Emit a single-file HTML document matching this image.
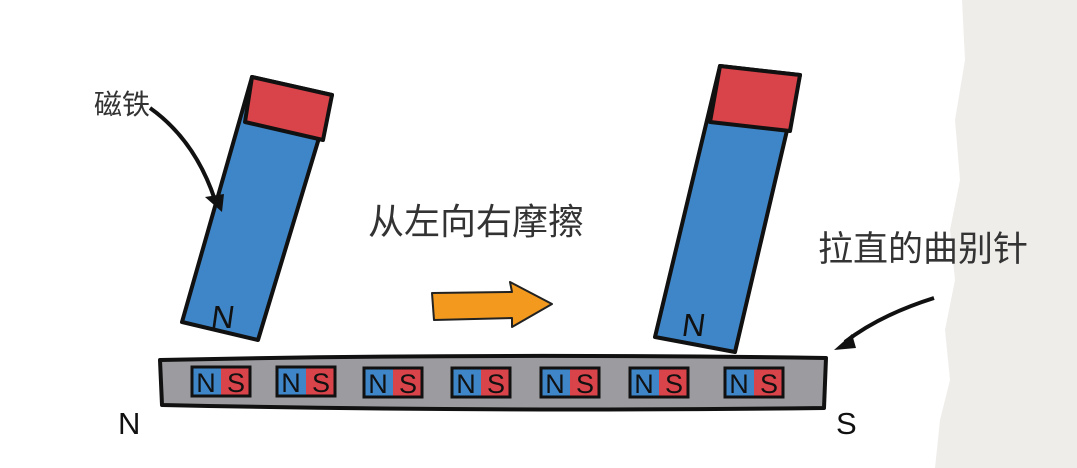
<!DOCTYPE html>
<html><head><meta charset="utf-8"><style>
body{margin:0;background:#fff;}
svg{display:block}
text{font-family:"Liberation Sans","Noto Sans CJK SC",sans-serif;}
</style></head><body>
<svg width="1077" height="468" viewBox="0 0 1077 468" xmlns="http://www.w3.org/2000/svg">
<path d="M962 0 L1077 0 L1077 468 L935 468 L940 420 L950 380 L945 330 L955 280 L950 230 L960 180 L955 120 L965 60 Z" fill="#efedea"/>
<!-- left magnet -->
<polygon points="252,77 332,95 258,340 182,322" fill="#3f86c8" stroke="#111" stroke-width="4" stroke-linejoin="round"/>
<polygon points="252,77 332,95 323,140 245,122" fill="#d9434a" stroke="#111" stroke-width="4" stroke-linejoin="round"/>
<text x="212" y="328" font-size="32" fill="#111" transform="skewX(-8) translate(44 0)">N</text>
<!-- right magnet -->
<polygon points="720,66 800,75 735,352 655,337" fill="#3f86c8" stroke="#111" stroke-width="4" stroke-linejoin="round"/>
<polygon points="720,66 800,75 790,131 710,122" fill="#d9434a" stroke="#111" stroke-width="4" stroke-linejoin="round"/>
<text x="682" y="336" font-size="32" fill="#111" transform="skewX(-8) translate(46 0)">N</text>
<!-- bar -->
<path d="M160 360 Q480 353 826 358 L824 408 Q480 412 162 405 Z" fill="#9c9ca0" stroke="#111" stroke-width="4" stroke-linejoin="round"/>
<g font-size="27" fill="#111" text-anchor="middle">
<g transform="translate(192,367)"><rect x="0" y="0" width="29" height="29" fill="#3f86c8"/><rect x="29" y="0" width="29" height="29" fill="#d9434a"/><rect x="0" y="0" width="58" height="29" fill="none" stroke="#111" stroke-width="3"/><text x="14" y="25">N</text><text x="44" y="25">S</text></g>
<g transform="translate(277,367)"><rect x="0" y="0" width="29" height="29" fill="#3f86c8"/><rect x="29" y="0" width="29" height="29" fill="#d9434a"/><rect x="0" y="0" width="58" height="29" fill="none" stroke="#111" stroke-width="3"/><text x="14" y="25">N</text><text x="44" y="25">S</text></g>
<g transform="translate(364,368)"><rect x="0" y="0" width="29" height="29" fill="#3f86c8"/><rect x="29" y="0" width="29" height="29" fill="#d9434a"/><rect x="0" y="0" width="58" height="29" fill="none" stroke="#111" stroke-width="3"/><text x="14" y="25">N</text><text x="44" y="25">S</text></g>
<g transform="translate(452,368)"><rect x="0" y="0" width="29" height="29" fill="#3f86c8"/><rect x="29" y="0" width="29" height="29" fill="#d9434a"/><rect x="0" y="0" width="58" height="29" fill="none" stroke="#111" stroke-width="3"/><text x="14" y="25">N</text><text x="44" y="25">S</text></g>
<g transform="translate(541,368)"><rect x="0" y="0" width="29" height="29" fill="#3f86c8"/><rect x="29" y="0" width="29" height="29" fill="#d9434a"/><rect x="0" y="0" width="58" height="29" fill="none" stroke="#111" stroke-width="3"/><text x="14" y="25">N</text><text x="44" y="25">S</text></g>
<g transform="translate(630,368)"><rect x="0" y="0" width="29" height="29" fill="#3f86c8"/><rect x="29" y="0" width="29" height="29" fill="#d9434a"/><rect x="0" y="0" width="58" height="29" fill="none" stroke="#111" stroke-width="3"/><text x="14" y="25">N</text><text x="44" y="25">S</text></g>
<g transform="translate(725,368)"><rect x="0" y="0" width="29" height="29" fill="#3f86c8"/><rect x="29" y="0" width="29" height="29" fill="#d9434a"/><rect x="0" y="0" width="58" height="29" fill="none" stroke="#111" stroke-width="3"/><text x="14" y="25">N</text><text x="44" y="25">S</text></g>
</g>
<!-- orange arrow -->
<polygon points="432,293 512,292 510,282 552,304 512,327 512,318 434,320" fill="#f39a1e" stroke="#222" stroke-width="2" stroke-linejoin="round"/>
<!-- leaders -->
<path d="M150 108 Q195 140 215 200" fill="none" stroke="#111" stroke-width="4"/>
<polygon points="205,197 224,194 222,212" fill="#111"/>
<path d="M934 298 Q880 315 845 342" fill="none" stroke="#111" stroke-width="4"/>
<polygon points="834,350 852,334 856,348" fill="#111"/>
<!-- text -->
<text x="94" y="114" font-size="28" fill="#333">磁铁</text>
<text x="368" y="234" font-size="36" fill="#333">从左向右摩擦</text>
<text x="818" y="261" font-size="35" fill="#333">拉直的曲别针</text>
<text x="118" y="434" font-size="31" fill="#111">N</text>
<text x="836" y="434" font-size="31" fill="#111">S</text>
</svg>
</body></html>
